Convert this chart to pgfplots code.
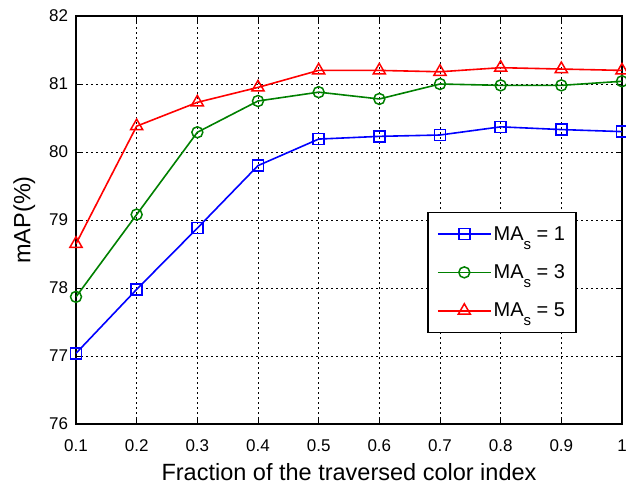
\documentclass[border=0pt]{standalone}
\usepackage{pgfplots}
\pgfplotsset{compat=1.18}
\usepackage{fontspec}
\setmainfont{Liberation Sans}
\newcommand{\sub}[1]{\raisebox{-9pt}{\fontsize{15}{15}\selectfont #1}}
\begin{document}
\begin{tikzpicture}[x=1pt,y=1pt]
\path[use as bounding box] (-76pt,-67pt) rectangle (550pt,424pt);
\begin{axis}[
  at={(0pt,0pt)}, anchor=south west,
  scale only axis, width=546pt, height=408pt,
  xmin=0.1, xmax=1, ymin=76, ymax=82,
  xtick={0.1,0.2,0.3,0.4,0.5,0.6,0.7,0.8,0.9,1},
  xticklabels={0.1,0.2,0.3,0.4,0.5,0.6,0.7,0.8,0.9,1},
  ytick={76,77,78,79,80,81,82},
  tick align=inside,
  major tick length=6pt,
  tick style={black, line width=0.8pt},
  axis line style={black, line width=1.3pt},
  grid=major,
  major grid style={black, line width=0.7pt, dash pattern=on 2pt off 3pt},
  tick label style={font=\fontsize{17}{19}\selectfont},
  xticklabel style={yshift=-12pt},
  yticklabel style={xshift=-4.5pt},
  /pgf/number format/assume math mode=true,
  xlabel={Fraction of the traversed color index},
  ylabel={mAP(\%)},
  label style={font=\fontsize{23.5}{26}\selectfont},
  xlabel style={yshift=-5pt},
  ylabel style={yshift=7pt},
  legend style={at={(0.917,0.223)}, anchor=south east, draw=black, line width=1.3pt,
    font=\fontsize{20}{22}\selectfont, row sep=19pt, inner xsep=9pt, inner ysep=12pt,
    cells={anchor=west}},
  legend image code/.code={
    \draw[line width=1.6pt, mark repeat=2,mark phase=2] plot coordinates {(0pt,0pt) (26.5pt,0pt) (53pt,0pt)};
  },
]
\addplot[blue, line width=1.6pt, mark=square, mark size=5.5pt, mark options={line width=1.5pt}] coordinates {
(0.1,77.04) (0.2,77.98) (0.3,78.88) (0.4,79.80) (0.5,80.19) (0.6,80.23) (0.7,80.25) (0.8,80.37) (0.9,80.33) (1.0,80.30)};
\addlegendentry{MA\sub{s} = 1}
\addplot[green!50!black, line width=1.6pt, mark=o, mark size=5.5pt, mark options={line width=1.5pt}] coordinates {
(0.1,77.87) (0.2,79.08) (0.3,80.29) (0.4,80.75) (0.5,80.88) (0.6,80.78) (0.7,81.00) (0.8,80.98) (0.9,80.98) (1.0,81.04)};
\addlegendentry{MA\sub{s} = 3}
\addplot[red, line width=1.6pt, mark=triangle, mark size=7pt, mark options={line width=1.5pt}] coordinates {
(0.1,78.65) (0.2,80.38) (0.3,80.73) (0.4,80.95) (0.5,81.20) (0.6,81.20) (0.7,81.18) (0.8,81.24) (0.9,81.22) (1.0,81.20)};
\addlegendentry{MA\sub{s} = 5}
\end{axis}
\end{tikzpicture}
\end{document}
